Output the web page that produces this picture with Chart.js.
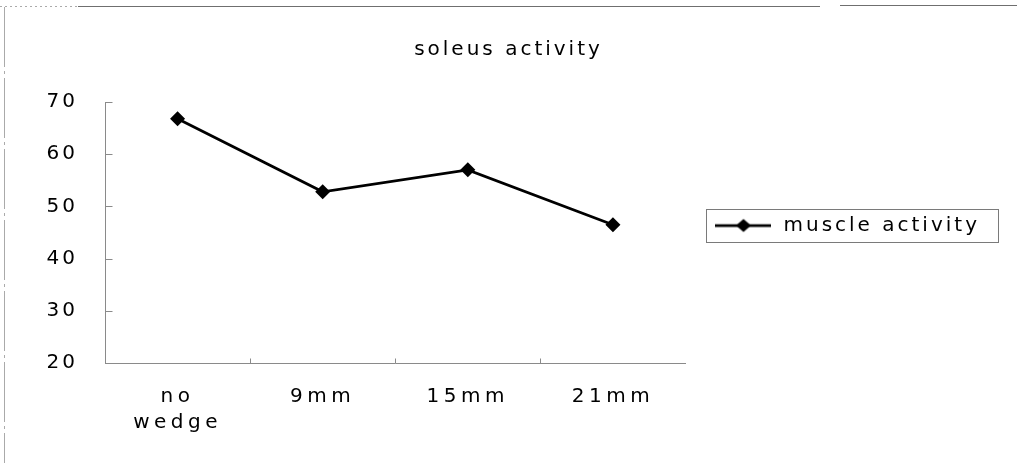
<!DOCTYPE html>
<html>
<head>
<meta charset="utf-8">
<script src="https://cdn.jsdelivr.net/npm/chart.js@4/dist/chart.umd.min.js"></script>
<style>
  html, body { margin: 0; padding: 0; background: #fff; }
  #wrap { width: 1017px; height: 463px; position: relative; }
</style>
</head>
<body>
<div id="wrap"><canvas id="c" width="1017" height="463"></canvas></div>
<script>
// Data
const categories = [['no', 'wedge'], '9mm', '15mm', '21mm'];
const muscleActivity = [66.8, 52.8, 57.0, 46.5];
const yTickValues = [20, 30, 40, 50, 60, 70];
const seriesName = 'muscle activity';
const chartTitle = 'soleus activity';

const FONT = 'DejaVu Sans';
const FONT_SIZE = 20;
const SPACING = '3px';
const X_LABEL_SPACING = '4.5px';
const AXIS_GREY = '#8a8a8a';

// Line-with-diamond symbol used as the legend marker
function makeLegendSymbol() {
  const cv = document.createElement('canvas');
  cv.width = 56; cv.height = 16;
  const g = cv.getContext('2d');
  g.strokeStyle = '#000';
  g.lineWidth = 2.75;
  g.beginPath(); g.moveTo(0, 8); g.lineTo(56, 8); g.stroke();
  g.fillStyle = '#000';
  g.beginPath();
  g.moveTo(28, 1.5); g.lineTo(35.5, 8); g.lineTo(28, 14.5); g.lineTo(20.5, 8);
  g.closePath(); g.fill();
  return cv;
}
const legendSymbol = makeLegendSymbol();

// Wide letter spacing for all chart text; slightly wider on the category labels
const spacingPlugin = {
  id: 'spacing',
  beforeUpdate(chart) { chart.ctx.letterSpacing = SPACING; },
  beforeLayout(chart) { chart.ctx.letterSpacing = SPACING; },
  afterLayout(chart) {
    // centre the title across the whole page rather than the padded area
    const tb = chart.titleBlock;
    if (tb) { tb.left = 0; tb.right = chart.width; tb.width = chart.width; }
    const xs = chart.scales.x;
    if (xs && !xs._spacedLabels) {
      const base = Object.getPrototypeOf(xs).drawLabels;
      xs.drawLabels = function (area) {
        const ctx = this.ctx;
        ctx.save();
        ctx.letterSpacing = X_LABEL_SPACING;
        base.call(this, area);
        ctx.restore();
      };
      xs._spacedLabels = true;
    }
  },
  beforeDraw(chart) { chart.ctx.letterSpacing = SPACING; }
};

// White page with a thin grey frame on the top and left
const framePlugin = {
  id: 'frame',
  beforeDraw(chart) {
    const ctx = chart.ctx;
    ctx.save();
    ctx.fillStyle = '#fff';
    ctx.fillRect(0, 0, chart.width, chart.height);
    ctx.strokeStyle = '#6f6f6f';
    ctx.lineWidth = 1;
    ctx.beginPath();
    ctx.moveTo(78, 6.5); ctx.lineTo(820, 6.5);
    ctx.moveTo(840, 5.5); ctx.lineTo(1017, 5.5);
    ctx.stroke();
    ctx.strokeStyle = '#aaaaaa';
    ctx.setLineDash([2, 3]);
    ctx.beginPath();
    ctx.moveTo(0, 6.5); ctx.lineTo(78, 6.5);
    ctx.stroke();
    ctx.setLineDash([60, 4, 3, 4]);
    ctx.beginPath();
    ctx.moveTo(4.5, 7); ctx.lineTo(4.5, 463);
    ctx.stroke();
    ctx.restore();
  }
};

// Short tick marks pointing into the plot area
const innerTicksPlugin = {
  id: 'innerTicks',
  afterDraw(chart) {
    const ctx = chart.ctx;
    const x = chart.scales.x, y = chart.scales.y;
    const ax = chart.chartArea.left + 0.5;
    const ay = chart.chartArea.bottom + 0.5;
    ctx.save();
    ctx.strokeStyle = AXIS_GREY;
    ctx.lineWidth = 1;
    ctx.beginPath();
    y.ticks.forEach(t => {
      const py = Math.round(y.getPixelForValue(t.value)) + 0.5;
      ctx.moveTo(ax, py); ctx.lineTo(ax + 7, py);
    });
    for (let i = 0; i < categories.length - 1; i++) {
      const px = Math.round((x.getPixelForValue(i) + x.getPixelForValue(i + 1)) / 2) + 0.5;
      ctx.moveTo(px, ay); ctx.lineTo(px, ay - 5);
    }
    ctx.stroke();
    ctx.restore();
  }
};

// Box drawn round the legend entry
const legendBoxPlugin = {
  id: 'legendBox',
  afterDraw(chart) {
    const hb = chart.legend && chart.legend.legendHitBoxes && chart.legend.legendHitBoxes[0];
    if (!hb) return;
    const ctx = chart.ctx;
    ctx.save();
    ctx.strokeStyle = '#7a7a7a';
    ctx.lineWidth = 1;
    const l = Math.round(hb.left - 7) + 0.5;
    const r = Math.round(hb.left + hb.width + 18) + 0.5;
    const t = Math.round(hb.top + hb.height / 2 - 17) + 0.5;
    const b = Math.round(hb.top + hb.height / 2 + 16) + 0.5;
    ctx.strokeRect(l, t, r - l, b - t);
    ctx.restore();
  }
};

new Chart(document.getElementById('c'), {
  type: 'line',
  data: {
    labels: categories,
    datasets: [{
      label: seriesName,
      data: muscleActivity,
      borderColor: '#000',
      backgroundColor: '#000',
      borderWidth: 2.75,
      pointStyle: 'rectRot',
      pointRadius: 7.5,
      pointHoverRadius: 7.5,
      pointBackgroundColor: '#000',
      pointBorderColor: '#000',
      pointBorderWidth: 0,
      tension: 0,
      fill: false
    }]
  },
  options: {
    responsive: false,
    devicePixelRatio: 1,
    animation: false,
    layout: { padding: { left: 0, right: 27, top: 0, bottom: 12 } },
    font: { family: FONT, size: FONT_SIZE },
    color: '#000',
    plugins: {
      title: {
        display: true,
        text: chartTitle,
        color: '#000',
        font: { family: FONT, size: FONT_SIZE, weight: 'normal', lineHeight: 1.2 },
        padding: { top: 38, bottom: 40 }
      },
      legend: {
        display: true,
        position: 'right',
        align: 'center',
        maxWidth: 420,
        labels: {
          color: '#000',
          font: { family: FONT, size: FONT_SIZE },
          padding: 28,
          usePointStyle: true,
          pointStyleWidth: 60,
          generateLabels(chart) {
            return chart.data.datasets.map((ds, i) => ({
              text: ds.label,
              pointStyle: legendSymbol,
              fillStyle: '#000',
              strokeStyle: '#000',
              lineWidth: 0,
              fontColor: '#000',
              datasetIndex: i,
              hidden: false
            }));
          }
        }
      },
      tooltip: { enabled: false }
    },
    scales: {
      x: {
        offset: true,
        grid: { display: false, drawTicks: false },
        border: { display: true, color: AXIS_GREY, width: 1 },
        ticks: { color: '#000', font: { family: FONT, size: FONT_SIZE, lineHeight: 1.3 }, padding: 21, maxRotation: 0, autoSkip: false },
        afterFit(scale) { scale.height = 88; }
      },
      y: {
        min: yTickValues[0],
        max: yTickValues[yTickValues.length - 1],
        afterBuildTicks(scale) { scale.ticks = yTickValues.map(v => ({ value: v })); },
        grid: { display: false, drawTicks: false },
        border: { display: true, color: AXIS_GREY, width: 1 },
        ticks: { color: '#000', font: { family: FONT, size: FONT_SIZE }, padding: 27 },
        afterFit(scale) { scale.width = 105; }
      }
    }
  },
  plugins: [spacingPlugin, framePlugin, innerTicksPlugin, legendBoxPlugin]
});
</script>
</body>
</html>
